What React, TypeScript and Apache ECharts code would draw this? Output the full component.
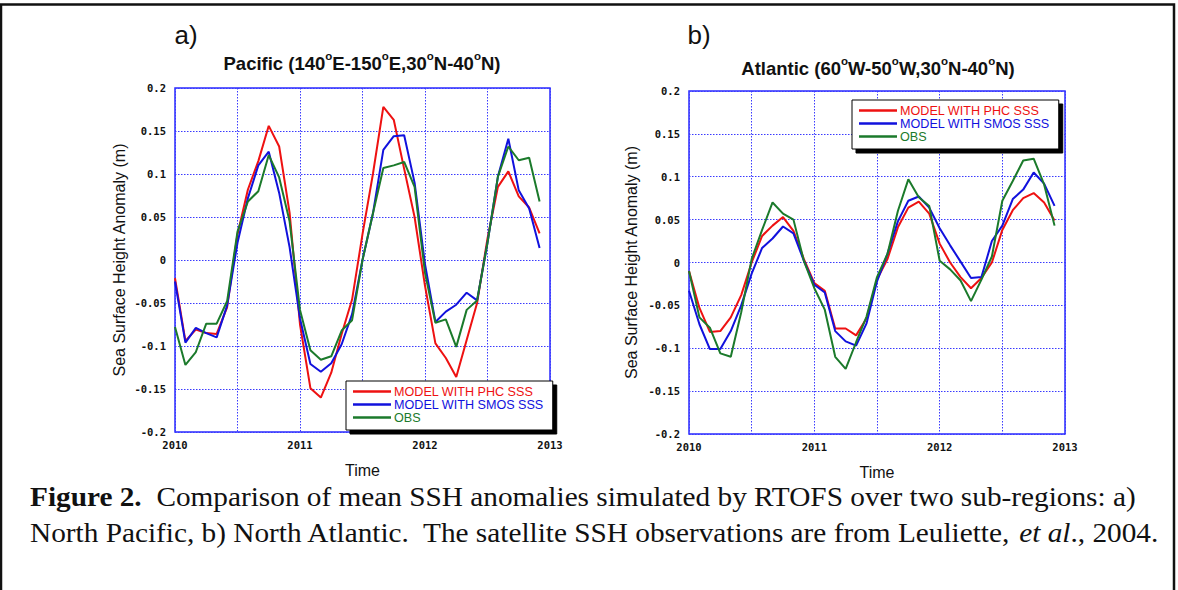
import React, { useEffect, useRef } from 'react';
import * as echarts from 'echarts';

// ---------- data ----------
const START_YEAR = 2010;
const MONTHS_PER_YEAR = 12;
const SERIES_NAMES = ['MODEL WITH PHC SSS', 'MODEL WITH SMOS SSS', 'OBS'];
const COLORS = ['#ee1111', '#1111dd', '#1b7a2b'];

// Pacific (140E-150E, 30N-40N), monthly Jan 2010 .. Dec 2012
const pacificPHC = [-0.021, -0.094, -0.081, -0.085, -0.086, -0.055, 0.030, 0.082, 0.115, 0.156, 0.132, 0.055,
  -0.075, -0.149, -0.160, -0.131, -0.086, -0.046, 0.030, 0.100, 0.178, 0.163, 0.106, 0.050,
  -0.030, -0.097, -0.114, -0.136, -0.093, -0.050, 0.025, 0.085, 0.103, 0.074, 0.061, 0.031];
const pacificSMOS = [-0.025, -0.096, -0.079, -0.085, -0.090, -0.053, 0.020, 0.072, 0.110, 0.126, 0.078, 0.015,
  -0.068, -0.121, -0.130, -0.120, -0.098, -0.063, 0.000, 0.054, 0.128, 0.144, 0.145, 0.090,
  -0.005, -0.072, -0.060, -0.052, -0.038, -0.047, 0.020, 0.097, 0.141, 0.081, 0.060, 0.014];
const pacificOBS = [-0.078, -0.122, -0.107, -0.074, -0.074, -0.048, 0.033, 0.068, 0.080, 0.122, 0.096, 0.045,
  -0.058, -0.105, -0.116, -0.112, -0.082, -0.070, 0.000, 0.054, 0.107, 0.110, 0.114, 0.085,
  -0.015, -0.073, -0.069, -0.101, -0.058, -0.047, 0.020, 0.097, 0.132, 0.116, 0.119, 0.068];

// Atlantic (60W-50W, 30N-40N)
const atlanticPHC = [-0.010, -0.053, -0.081, -0.080, -0.064, -0.038, 0.000, 0.031, 0.043, 0.053, 0.037, 0.004,
  -0.024, -0.033, -0.077, -0.077, -0.085, -0.065, -0.020, 0.004, 0.041, 0.064, 0.071, 0.057,
  0.022, 0.000, -0.017, -0.030, -0.018, 0.000, 0.038, 0.061, 0.075, 0.081, 0.070, 0.049];
const atlanticSMOS = [-0.033, -0.072, -0.101, -0.101, -0.080, -0.050, -0.013, 0.017, 0.028, 0.042, 0.034, 0.002,
  -0.026, -0.035, -0.080, -0.092, -0.097, -0.071, -0.022, 0.010, 0.048, 0.072, 0.077, 0.064,
  0.040, 0.020, 0.001, -0.018, -0.017, 0.025, 0.043, 0.074, 0.085, 0.105, 0.092, 0.066];
const atlanticOBS = [-0.010, -0.064, -0.076, -0.106, -0.110, -0.058, 0.004, 0.038, 0.070, 0.057, 0.050, 0.002,
  -0.030, -0.055, -0.110, -0.124, -0.093, -0.063, -0.017, 0.010, 0.060, 0.097, 0.076, 0.066,
  0.002, -0.008, -0.021, -0.045, -0.020, 0.007, 0.072, 0.095, 0.119, 0.121, 0.091, 0.043];

const X_MIN = 2010;
const X_MAX = 2013;
const X_INTERVAL = 0.5;
const Y_MIN = -0.2;
const Y_MAX = 0.2;
const Y_INTERVAL = 0.05;

const PANEL_LABELS = ['a)', 'b)'];
const TITLE_A = '{t|Pacific (140}{s|o}{t|E-150}{s|o}{t|E,30}{s|o}{t|N-40}{s|o}{t|N)}';
const TITLE_B = '{t|Atlantic (60}{s|o}{t|W-50}{s|o}{t|W,30}{s|o}{t|N-40}{s|o}{t|N)}';
const Y_NAME = 'Sea Surface Height Anomaly (m)';
const X_NAME = 'Time';
const CAPTION_1 = '{b|Figure 2.}  Comparison of mean SSH anomalies simulated by RTOFS over two sub-regions: a)';
const CAPTION_2 = 'North Pacific, b) North Atlantic.  The satellite SSH observations are from Leuliette, {i|et al}., 2004.';

const toPoints = (vals: number[]) => vals.map((v, i) => [START_YEAR + i / MONTHS_PER_YEAR, v]);

const AXIS_FONT = 'DejaVu Sans Mono';
const SANS = 'Liberation Sans';
const SERIF = 'Liberation Serif';

export default function App() {
  const ref = useRef<HTMLDivElement>(null);
  useEffect(() => {
    document.body.style.margin = '0';
    if (!ref.current) return;
    const chart = echarts.init(ref.current, undefined, { renderer: 'svg' });

    const gridBase = {
      show: true,
      borderColor: '#2a2aff',
      borderWidth: 1.5,
      backgroundColor: 'transparent',
      containLabel: false,
    };
    const xAxisBase = (gi: number) => ({
      type: 'value',
      gridIndex: gi,
      min: X_MIN,
      max: X_MAX,
      interval: X_INTERVAL,
      name: X_NAME,
      nameLocation: 'middle',
      nameGap: 30,
      nameTextStyle: { fontFamily: SANS, fontSize: 16, color: '#111' },
      axisLine: { show: false },
      axisTick: { show: false },
      axisLabel: {
        margin: 7,
        fontFamily: AXIS_FONT,
        fontWeight: 'bold',
        fontSize: 10.5,
        color: '#111',
        formatter: (v: number) => (Math.abs(v - Math.round(v)) < 1e-6 ? String(Math.round(v)) : ''),
      },
      splitLine: { show: true, lineStyle: { color: '#3a3aff', width: 1, type: [1.5, 1.5] } },
    });
    const yAxisBase = (gi: number, gap: number) => ({
      type: 'value',
      gridIndex: gi,
      min: Y_MIN,
      max: Y_MAX,
      interval: Y_INTERVAL,
      name: Y_NAME,
      nameLocation: 'middle',
      nameGap: gap,
      nameTextStyle: { fontFamily: SANS, fontSize: 16, color: '#111' },
      axisLine: { show: false },
      axisTick: { show: false },
      axisLabel: {
        margin: 9,
        fontFamily: AXIS_FONT,
        fontWeight: 'bold',
        fontSize: 10.5,
        color: '#111',
        formatter: (v: number) => String(Math.round(v * 100) / 100),
      },
      splitLine: { show: true, lineStyle: { color: '#3a3aff', width: 1, type: [1.5, 1.5] } },
    });

    const lineSeries = (name: string, color: string, vals: number[], gi: number) => ({
      type: 'line',
      name,
      xAxisIndex: gi,
      yAxisIndex: gi,
      data: toPoints(vals),
      showSymbol: false,
      symbol: 'none',
      lineStyle: { color, width: 2 },
      itemStyle: { color },
      z: 3,
    });

    const legendBase = (left: number, top: number) => ({
      orient: 'vertical',
      left,
      top,
      selectedMode: false,
      icon: 'rect',
      itemWidth: 38,
      itemHeight: 2.5,
      itemGap: 0,
      padding: [4, 9, 6, 7],
      backgroundColor: '#fff',
      borderColor: '#000',
      borderWidth: 1,
      borderRadius: 0,
      shadowColor: '#000',
      shadowBlur: 0,
      shadowOffsetX: 4,
      shadowOffsetY: 4,
      textStyle: { fontFamily: SANS, fontSize: 12.6, lineHeight: 11.7, padding: [0, 0, 0, -2] },
      data: SERIES_NAMES.map((n, i) => ({ name: n, textStyle: { color: COLORS[i] } })),
    });

    const titleRich = {
      t: { fontFamily: SANS, fontWeight: 'bold', fontSize: 18.5, lineHeight: 26, color: '#111' },
      s: { fontFamily: SANS, fontWeight: 'bold', fontSize: 11.5, lineHeight: 8, verticalAlign: 'top', color: '#111' },
    };

    const captionCommon = {
      x: 30, align: 'left', verticalAlign: 'middle',
      fontFamily: SERIF, fontSize: 27, fill: '#111',
    };

    chart.setOption({
      animation: false,
      backgroundColor: '#ffffff',
      grid: [
        { ...gridBase, left: 175, top: 88, width: 375, height: 344 },
        { ...gridBase, left: 689, top: 91, width: 376, height: 343 },
      ],
      xAxis: [xAxisBase(0), xAxisBase(1)],
      yAxis: [yAxisBase(0, 48), yAxisBase(1, 50)],
      legend: [legendBase(346, 381), legendBase(852, 100)],
      series: [
        lineSeries(SERIES_NAMES[0], COLORS[0], pacificPHC, 0),
        lineSeries(SERIES_NAMES[1], COLORS[1], pacificSMOS, 0),
        lineSeries(SERIES_NAMES[2], COLORS[2], pacificOBS, 0),
        lineSeries(SERIES_NAMES[0], COLORS[0], atlanticPHC, 1),
        lineSeries(SERIES_NAMES[1], COLORS[1], atlanticSMOS, 1),
        lineSeries(SERIES_NAMES[2], COLORS[2], atlanticOBS, 1),
      ],
      graphic: [
        {
          type: 'rect',
          silent: true,
          shape: { x: 1, y: 4.5, width: 1173, height: 620 },
          style: { fill: 'none', stroke: '#111', lineWidth: 2.5 },
        },
        {
          type: 'text', silent: true,
          style: { text: PANEL_LABELS[0], x: 186, y: 35, align: 'center', verticalAlign: 'middle', fontFamily: SANS, fontSize: 26, fill: '#111' },
        },
        {
          type: 'text', silent: true,
          style: { text: PANEL_LABELS[1], x: 699, y: 35, align: 'center', verticalAlign: 'middle', fontFamily: SANS, fontSize: 26, fill: '#111' },
        },
        {
          type: 'text', silent: true,
          style: { text: TITLE_A, x: 362, y: 63, align: 'center', verticalAlign: 'middle', rich: titleRich, fontFamily: SANS, fontWeight: 'bold', fontSize: 18.5, fill: '#111' },
        },
        {
          type: 'text', silent: true,
          style: { text: TITLE_B, x: 878, y: 68, align: 'center', verticalAlign: 'middle', rich: titleRich, fontFamily: SANS, fontWeight: 'bold', fontSize: 18.5, fill: '#111' },
        },
        {
          type: 'text', silent: true,
          x: 30, originX: 0, scaleX: 1.085,
          style: {
            ...captionCommon, x: 0, y: 497, text: CAPTION_1,
            rich: { b: { fontFamily: SERIF, fontSize: 27, fontWeight: 'bold' } },
          },
        },
        {
          type: 'text', silent: true,
          x: 30, originX: 0, scaleX: 1.085,
          style: {
            ...captionCommon, x: 0, y: 533, text: CAPTION_2,
            rich: { i: { fontFamily: SERIF, fontSize: 27, fontStyle: 'italic' } },
          },
        },
      ],
    });
    return () => chart.dispose();
  }, []);
  return (
    <div
      ref={ref}
      style={{ position: 'absolute', left: 0, top: 0, width: 1178, height: 590, background: '#fff' }}
    />
  );
}
